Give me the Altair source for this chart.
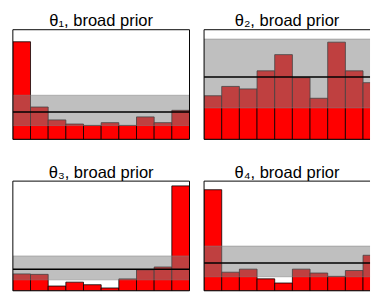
import altair as alt
import pandas as pd

# ---- data ----
bin_starts = [0, 1, 2, 3, 4, 5, 6, 7, 8, 9]
counts_1 = [35.6, 11.8, 7.1, 5.6, 5.1, 6.1, 5.1, 8.2, 6.1, 10.6]
counts_2 = [7.0, 8.5, 8.1, 11.0, 13.6, 9.9, 6.6, 15.6, 11.0, 9.1]
counts_3 = [7.8, 7.6, 2.2, 4.0, 2.8, 1.3, 5.5, 9.7, 11.0, 48.5]
counts_4 = [36.4, 6.7, 7.8, 4.3, 2.8, 7.8, 6.4, 5.2, 7.3, 12.8]
titles = ["θ₁, broad prior", "θ₂, broad prior", "θ₃, broad prior", "θ₄, broad prior"]
y_max = [40.0, 17.6, 50.7, 39.5]
expected = 10.0
band_low = 5.05
band_high = 16.1

FULL_W = 182
CUT_W = 171
H = 113
BIN_PX = FULL_W / 10.0


def panel(counts, title, ymax, width):
    xmax = width / BIN_PX
    xs = alt.Scale(domain=[0, xmax], nice=False, zero=False)
    ys = alt.Scale(domain=[0, ymax], nice=False)
    df = pd.DataFrame({"lo": bin_starts,
                       "hi": [b + 1 for b in bin_starts],
                       "count": counts})
    band = pd.DataFrame({"lo": [0], "hi": [10], "low": [band_low],
                         "high": [band_high], "mean": [expected]})
    full = width == FULL_W
    fx0 = [0, 0, 0] + ([xmax] if full else [])
    fx1 = [xmax, xmax, 0] + ([xmax] if full else [])
    fy0 = [0, ymax, 0] + ([0] if full else [])
    fy1 = [0, ymax, ymax] + ([ymax] if full else [])
    frame = pd.DataFrame({"x0": fx0, "x1": fx1, "y0": fy0, "y1": fy1})

    bars = alt.Chart(df).mark_bar(
        fill="#ff0000", stroke="#000000", strokeWidth=1, strokeOpacity=0.8,
        clip=True,
    ).encode(
        x=alt.X("lo:Q", scale=xs, axis=None),
        x2="hi:Q",
        y=alt.Y("count:Q", scale=ys, axis=None),
        y2=alt.datum(0),
    )
    shade = alt.Chart(band).mark_rect(
        fill="#808080", fillOpacity=0.5, stroke="#808080", strokeOpacity=0.5,
        strokeWidth=1, clip=True,
    ).encode(
        x=alt.X("lo:Q", scale=xs, axis=None), x2="hi:Q",
        y=alt.Y("low:Q", scale=ys, axis=None), y2="high:Q",
    )
    mean_line = alt.Chart(band).mark_rule(
        color="#000000", strokeWidth=1.6, clip=True,
    ).encode(
        x=alt.X("lo:Q", scale=xs, axis=None), x2="hi:Q",
        y=alt.Y("mean:Q", scale=ys, axis=None),
    )
    border = alt.Chart(frame).mark_rule(color="#000000", strokeWidth=1).encode(
        x=alt.X("x0:Q", scale=xs, axis=None), x2="x1:Q",
        y=alt.Y("y0:Q", scale=ys, axis=None), y2="y1:Q",
    )
    return alt.layer(bars, shade, mean_line, border).properties(
        width=width, height=H,
        title=alt.TitleParams(title, fontSize=17, font="Liberation Sans",
                              fontWeight="normal", anchor="middle",
                              offset=-1, color="#000000"),
    )


p1 = panel(counts_1, titles[0], y_max[0], FULL_W)
p2 = panel(counts_2, titles[1], y_max[1], CUT_W)
p3 = panel(counts_3, titles[2], y_max[2], FULL_W)
p4 = panel(counts_4, titles[3], y_max[3], CUT_W)

chart = alt.vconcat(
    alt.hconcat(p1, p2, spacing=13),
    alt.hconcat(p3, p4, spacing=13),
    spacing=24,
).properties(
    padding={"left": 4, "top": 0, "right": 0, "bottom": 0},
).configure_view(stroke="transparent").configure_concat(spacing=13)

chart.save("out.html", embed_options={"renderer": "svg", "actions": False})
